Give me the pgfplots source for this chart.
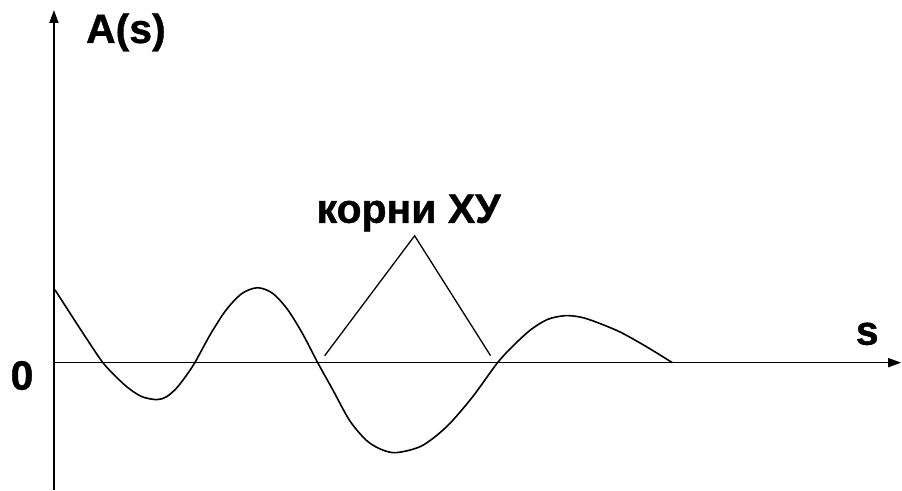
\documentclass[border=0pt]{standalone}
\usepackage{fontspec}
\setmainfont{Liberation Sans}
\newfontfamily\lbl{Liberation Sans Bold}[FakeBold=1]
\usepackage{pgfplots}
\pgfplotsset{compat=1.18}
\usetikzlibrary{arrows.meta}

\begin{document}
\begin{tikzpicture}
\begin{axis}[
  x=1pt, y=1pt,
  xmin=0, xmax=848,
  ymin=-127, ymax=353,
  axis lines=middle,
  axis line style={line width=1.6pt, -{Triangle[length=13pt,width=9pt]}},
  xtick=\empty, ytick=\empty,
  clip=false,
]
  % page extent
  \path (axis cs:-54,-127) rectangle (axis cs:848,363);

  % characteristic function A(s)
  \addplot[black, line width=1.6pt, smooth, tension=0.5] coordinates {
    (1,73) (19,45) (36,19) (49,0)
    (61,-13) (74,-25) (88,-34) (103,-37)
    (112.5,-34.2) (122,-26.2) (131.5,-14.2) (141,0)
    (156.75,28.7) (172.5,53.0) (188.25,69.3) (204,75)
    (219,69.3) (234,53.0) (249,28.7) (264,0)
    (279,-27) (296,-58) (313,-78) (328,-87) (343,-90)
    (368.25,-83.2) (393.5,-63.6) (418.75,-34.5) (444,0)
    (460.75,18.0) (477.5,33.2) (494.25,43.4) (511,47)
    (525,46) (539,42) (566,31) (593,16) (619,0)
  };

  % pointer lines from the label to the roots
  \addplot[black, line width=1.3pt] coordinates {(271,7) (361,127) (437,7)};

  \node[anchor=base, font=\lbl\fontsize{41}{48}\selectfont] at (axis cs:72,320) {A(s)};
  \node[anchor=base, font=\lbl\fontsize{41}{48}\selectfont] at (axis cs:-32,-27) {0};
  \node[anchor=base, font=\lbl\fontsize{41}{48}\selectfont] at (axis cs:814,18) {s};
  \node[anchor=base, font=\lbl\fontsize{41}{48}\selectfont] at (axis cs:355,140) {корни ХУ};
\end{axis}
\end{tikzpicture}
\end{document}
